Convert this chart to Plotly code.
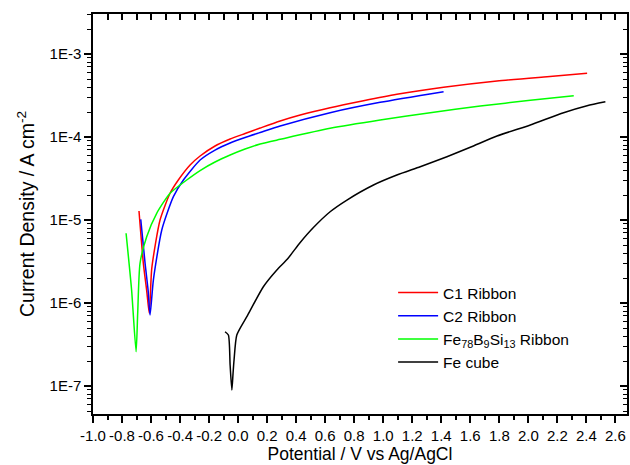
import plotly.graph_objects as go

# ---- data (y values given as log10 of current density in A cm^-2) ----
c1_x = [-0.683, -0.653, -0.63, -0.612, -0.595, -0.538, -0.469, -0.412, -0.331, -0.262, -0.159, -0.055,
        0.048, 0.152, 0.29, 0.428, 0.634, 0.864, 1.094, 1.416, 1.784, 2.129, 2.405]
c1_logy = [-4.892, -5.522, -5.85, -6.124, -5.582, -5.000, -4.678, -4.518, -4.337, -4.229, -4.108, -4.024,
           -3.958, -3.892, -3.807, -3.735, -3.647, -3.563, -3.486, -3.401, -3.325, -3.273, -3.233]

c2_x = [-0.671, -0.641, -0.62, -0.607, -0.584, -0.526, -0.446, -0.377, -0.262, -0.159, -0.055, 0.048,
        0.152, 0.29, 0.634, 0.979, 1.416]
c2_logy = [-4.992, -5.522, -5.85, -6.145, -5.723, -5.120, -4.719, -4.518, -4.277, -4.157, -4.072, -4.006,
           -3.946, -3.867, -3.707, -3.582, -3.454]

fe_rib_x = [-0.772, -0.734, -0.703, -0.692, -0.676, -0.630, -0.561, -0.469, -0.354, -0.262, -0.159,
            -0.055, 0.048, 0.152, 0.29, 0.634, 0.979, 1.324, 1.669, 2.014, 2.313]
fe_rib_logy = [-5.160, -5.843, -6.587, -6.124, -5.522, -5.201, -4.919, -4.678, -4.518, -4.404, -4.301,
               -4.217, -4.145, -4.084, -4.028, -3.895, -3.795, -3.707, -3.627, -3.558, -3.502]

fe_cube_x = [-0.090, -0.067, -0.055, -0.043, -0.035, -0.028, -0.009, 0.060, 0.174, 0.267, 0.340,
             0.428, 0.519, 0.634, 0.750, 0.933, 1.094, 1.255, 1.439, 1.600, 1.784, 2.014, 2.243, 2.405, 2.531]
fe_cube_logy = [-6.346, -6.386, -6.75, -7.048, -6.85, -6.687, -6.386, -6.165, -5.804, -5.602, -5.470,
                -5.270, -5.090, -4.900, -4.759, -4.578, -4.458, -4.358, -4.237, -4.124, -3.988, -3.855,
                -3.707, -3.623, -3.575]

series_names = ["C1 Ribbon", "C2 Ribbon", "Fe<sub>78</sub>B<sub>9</sub>Si<sub>13</sub> Ribbon", "Fe cube"]
series_colors = ["#ff0000", "#0000ff", "#00ff00", "#000000"]

y_tick_vals = [1e-7, 1e-6, 1e-5, 1e-4, 1e-3]
y_tick_text = ["1E-7", "1E-6", "1E-5", "1E-4", "1E-3"]
x_tick_vals = [round(-1.0 + 0.2 * i, 1) for i in range(19)]
x_tick_text = [f"{v:.1f}" for v in x_tick_vals]

x_range = [-1.0, 2.68]
y_range_log = [-7.337, -2.518]

y_minor_vals = [m * 10.0 ** k for k in range(-8, -1) for m in range(2, 10)]

FONT = "Arial, Liberation Sans, sans-serif"

fig = go.Figure()
data = [(c1_x, c1_logy), (c2_x, c2_logy), (fe_rib_x, fe_rib_logy), (fe_cube_x, fe_cube_logy)]
for (xs, ly), name, col in zip(data, series_names, series_colors):
    fig.add_trace(go.Scatter(x=xs, y=[10 ** v for v in ly], mode="lines", name=name,
                             line=dict(color=col, width=1.5, shape="spline", smoothing=0.6)))

# empty trace on overlay axes so the top/right frame with inward ticks is drawn
fig.add_trace(go.Scatter(x=[], y=[], xaxis="x2", yaxis="y2", showlegend=False, hoverinfo="skip"))

fig.update_layout(
    width=630, height=465,
    margin=dict(l=93, r=3, t=14, b=51),
    paper_bgcolor="white", plot_bgcolor="white",
    font=dict(family=FONT, size=15, color="black"),
    showlegend=True,
    legend=dict(x=0.562, y=0.345, xanchor="left", yanchor="top",
                bgcolor="rgba(0,0,0,0)", font=dict(size=15.5, family=FONT),
                itemwidth=40, tracegroupgap=0),
    xaxis=dict(range=x_range, automargin=False, showgrid=False, zeroline=False, showline=True,
               linecolor="black", linewidth=1.5, ticks="outside", ticklen=7, tickwidth=1.5,
               tickcolor="black", tickmode="array", tickvals=x_tick_vals, ticktext=x_tick_text,
               tickfont=dict(size=15),
               minor=dict(ticks="outside", ticklen=4, tickwidth=1.5, tickcolor="black", dtick=0.1, tick0=-1.0),
               title=dict(text="Potential / V vs Ag/AgCl", font=dict(size=17.5), standoff=2)),
    yaxis=dict(type="log", range=y_range_log, automargin=False, showgrid=False, zeroline=False,
               showline=True, linecolor="black", linewidth=1.5, ticks="outside", ticklen=7,
               tickwidth=1.5, tickcolor="black", tickmode="array", tickvals=y_tick_vals,
               ticktext=y_tick_text, tickfont=dict(size=15),
               minor=dict(ticks="outside", ticklen=4, tickwidth=1, tickcolor="black",
                          tickmode="array", tickvals=y_minor_vals),
               title=dict(text="Current Density / A cm<sup>-2</sup>", font=dict(size=19.5), standoff=10)),
    xaxis2=dict(overlaying="x", side="top", anchor="y", range=x_range, automargin=False, showgrid=False,
                zeroline=False, showline=True, linecolor="black", linewidth=1.5, ticks="inside",
                ticklen=6, tickwidth=1.5, tickcolor="black", tickmode="linear", tick0=-1.0,
                dtick=0.1, showticklabels=False),
    yaxis2=dict(overlaying="y", side="right", anchor="x", type="log", range=y_range_log, automargin=False,
                showgrid=False, zeroline=False, showline=True, linecolor="black", linewidth=1.5,
                ticks="inside", ticklen=7, tickwidth=1.5, tickcolor="black", tickmode="array",
                tickvals=y_tick_vals, showticklabels=False,
                minor=dict(ticks="inside", ticklen=4, tickwidth=1, tickcolor="black",
                           tickmode="array", tickvals=y_minor_vals)),
)

fig.write_html("out.html", config={"displayModeBar": False},
               post_script="document.body.style.margin='0';document.body.style.overflow='hidden';")
